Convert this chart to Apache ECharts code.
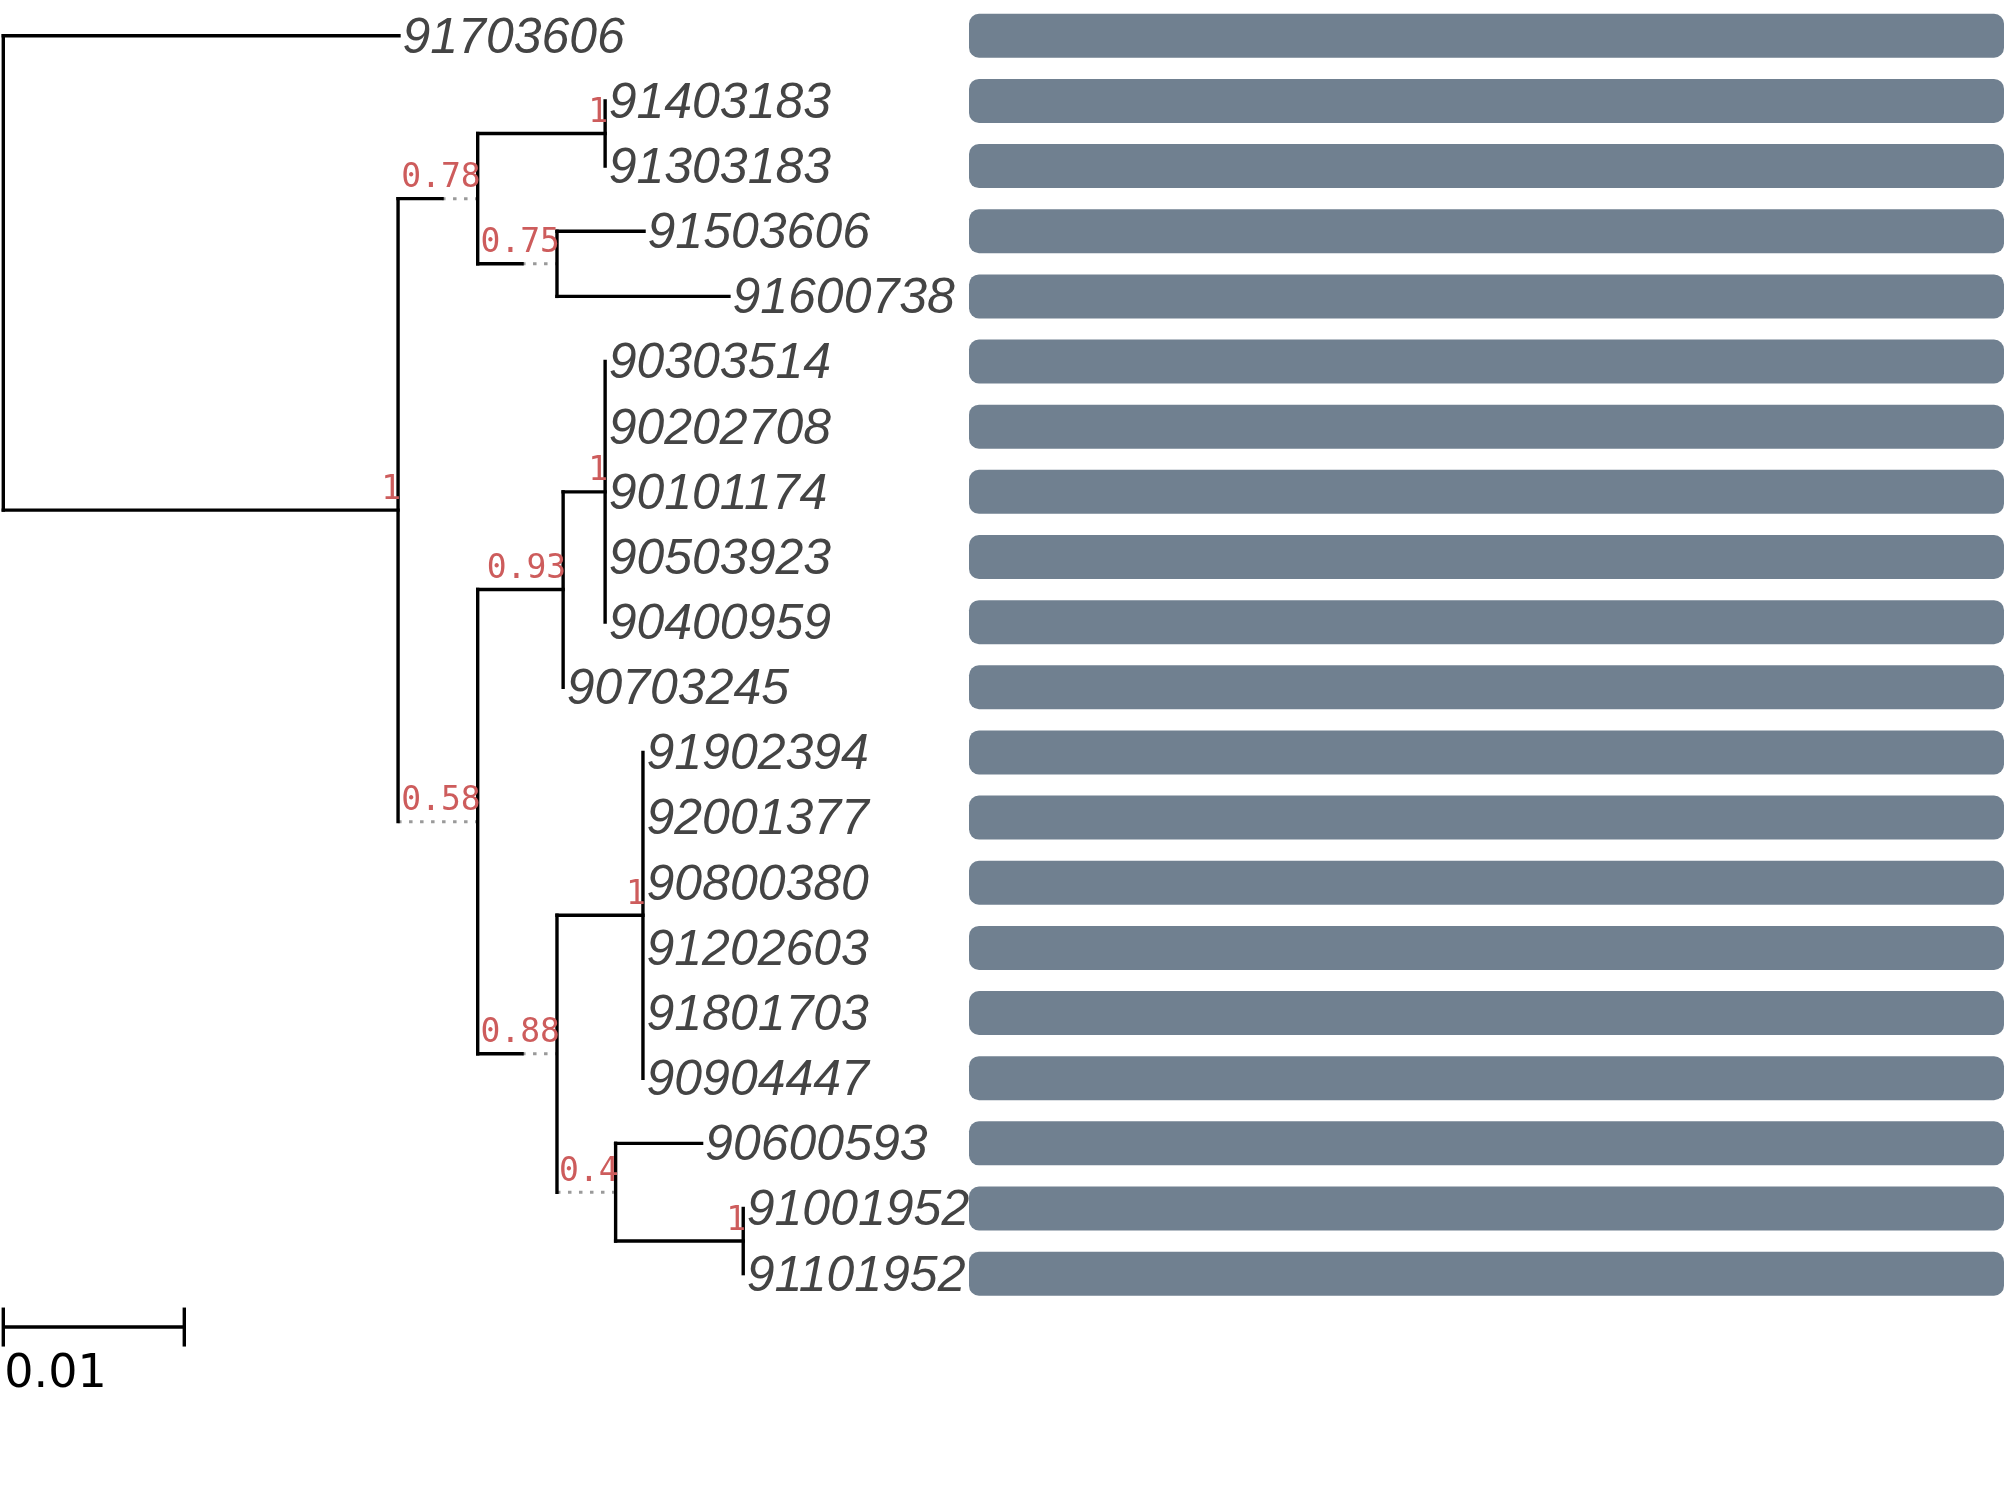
<!DOCTYPE html>
<html>
<head>
<meta charset="utf-8">
<title>tree</title>
<script src="https://cdn.jsdelivr.net/npm/echarts@6/dist/echarts.min.js"></script>
<style>
  html, body { margin: 0; padding: 0; background: #fff; }
  #main { width: 2007px; height: 1490px; }
</style>
</head>
<body>
<div id="main"></div>
<script>
// leaves, top to bottom
var leafNames = ['91703606', '91403183', '91303183', '91503606', '91600738',
  '90303514', '90202708', '90101174', '90503923', '90400959', '90703245',
  '91902394', '92001377', '90800380', '91202603', '91801703', '90904447',
  '90600593', '91001952', '91101952'];
var leafParent = ['root', 'nA1', 'nA1', 'nA2', 'nA2',
  'nB1a', 'nB1a', 'nB1a', 'nB1a', 'nB1a', 'nB1',
  'nB2a', 'nB2a', 'nB2a', 'nB2a', 'nB2a', 'nB2a',
  'nB2b', 'nB2c', 'nB2c'];
var leafBranch = [0.02186, 0, 0, 0.00481, 0.00950,
  0, 0, 0, 0, 0, 0,
  0, 0, 0, 0, 0, 0,
  0.00475, 0, 0];

// internal nodes
var nodeIds     = ['root', 'n1', 'nA', 'nA1', 'nA2', 'nB', 'nB1', 'nB1a', 'nB2', 'nB2a', 'nB2b', 'nB2c'];
var nodeParent  = [null, 'root', 'n1', 'nA', 'nA', 'n1', 'nB', 'nB1', 'nB', 'nB2', 'nB2', 'nB2b'];
var nodeBranch  = [0, 0.02181, 0.00243, 0.00704, 0.00245, 0, 0.00472, 0.00232, 0.00245, 0.00475, 0, 0.00705];
// dotted extension drawn after the branch (room for the support text)
var nodeExtra   = [0, 0, 0.00197, 0, 0.00193, 0.00440, 0, 0, 0.00193, 0, 0.00324, 0];
var nodeSupport = [null, '1', '0.78', '1', '0.75', '0.58', '0.93', '1', '0.88', '1', '0.4', '1'];

// bars on the right
var barLengths = [1, 1, 1, 1, 1, 1, 1, 1, 1, 1, 1, 1, 1, 1, 1, 1, 1, 1, 1, 1];

// scale bar
var scaleLength = 0.01;
var scaleLabel = '0.01';

var ROW_SCALE = 19.82;
var LINE_W = 3.4;

// ---- tree layout ----
var nodeX = {}, nodeY = {};
var idx = {};
nodeIds.forEach(function (id, i) { idx[id] = i; });

function getX(id) {
  if (nodeX[id] !== undefined) return nodeX[id];
  var i = idx[id];
  var p = nodeParent[i];
  var x = p === null ? 0 : getX(p) + nodeBranch[i] + nodeExtra[i];
  nodeX[id] = x;
  return x;
}
function childYs(id) {
  var ys = [];
  leafParent.forEach(function (p, i) { if (p === id) ys.push(i); });
  nodeParent.forEach(function (p, i) { if (p === id) ys.push(getY(nodeIds[i])); });
  return ys;
}
function getY(id) {
  if (nodeY[id] !== undefined) return nodeY[id];
  var ys = childYs(id);
  var y = (Math.min.apply(null, ys) + Math.max.apply(null, ys)) / 2;
  nodeY[id] = y;
  return y;
}
nodeIds.forEach(function (id) { getX(id); getY(id); });

var solidSeg = [], dotSeg = [], leafText = [], supportText = [];

// internal node branches + verticals
nodeIds.forEach(function (id, i) {
  var ys = childYs(id);
  solidSeg.push([nodeX[id], Math.min.apply(null, ys), nodeX[id], Math.max.apply(null, ys)]);
  var p = nodeParent[i];
  if (p === null) return;
  var px = nodeX[p];
  var sx = px + nodeBranch[i];
  if (nodeBranch[i] > 0) solidSeg.push([px, nodeY[id], sx, nodeY[id]]);
  if (nodeExtra[i] > 0) dotSeg.push([sx, nodeY[id], nodeX[id], nodeY[id]]);
  if (nodeSupport[i] !== null) supportText.push([nodeX[id], nodeY[id], nodeSupport[i]]);
});
// leaf branches
leafNames.forEach(function (name, i) {
  var px = nodeX[leafParent[i]];
  var lx = px + leafBranch[i];
  if (leafBranch[i] > 0) solidSeg.push([px, i, lx, i]);
  leafText.push([lx, i, name]);
});

function segItem(color, width, dash, cap) {
  return function (params, api) {
    var a = api.coord([api.value(0), api.value(1)]);
    var b = api.coord([api.value(2), api.value(3)]);
    return {
      type: 'line',
      shape: { x1: a[0], y1: a[1], x2: b[0], y2: b[1] },
      style: { stroke: color, lineWidth: width, lineDash: dash, lineCap: cap }
    };
  };
}

var chart = echarts.init(document.getElementById('main'));

var option = {
  animation: false,
  grid: [
    { left: 3.3, top: 3.2, width: 905, height: 1433.3 },
    { left: 969, top: 3.2, width: 1035, height: 1303 }
  ],
  xAxis: [
    { gridIndex: 0, type: 'value', min: 0, max: 0.05, show: false },
    { gridIndex: 1, type: 'value', min: 0, max: 1, show: false }
  ],
  yAxis: [
    { gridIndex: 0, type: 'value', min: -0.5, max: 21.5, inverse: true, show: false },
    { gridIndex: 1, type: 'category', data: leafNames, inverse: true, show: false }
  ],
  series: [
    {
      type: 'bar',
      xAxisIndex: 1,
      yAxisIndex: 1,
      data: barLengths,
      barWidth: 44,
      silent: true,
      itemStyle: { color: '#708090', borderRadius: 10 }
    },
    {
      type: 'custom',
      xAxisIndex: 0, yAxisIndex: 0,
      data: dotSeg,
      silent: true,
      renderItem: segItem('#9a9a9a', 3, [3.5, 7.5], 'butt')
    },
    {
      type: 'custom',
      xAxisIndex: 0, yAxisIndex: 0,
      data: solidSeg,
      silent: true,
      renderItem: segItem('#000000', LINE_W, null, 'square')
    },
    {
      type: 'custom',
      xAxisIndex: 0, yAxisIndex: 0,
      data: leafText,
      silent: true,
      renderItem: function (params, api) {
        var p = api.coord([api.value(0), api.value(1)]);
        return {
          type: 'text',
          style: {
            x: p[0] + 3.5, y: p[1] + 3,
            text: leafText[params.dataIndex][2],
            fill: '#444444',
            font: 'italic 50px "Liberation Sans"',
            align: 'left', verticalAlign: 'middle'
          }
        };
      }
    },
    {
      type: 'custom',
      xAxisIndex: 0, yAxisIndex: 0,
      data: supportText,
      silent: true,
      renderItem: function (params, api) {
        var p = api.coord([api.value(0), api.value(1)]);
        return {
          type: 'text',
          style: {
            x: p[0] + 3, y: p[1] - 20,
            text: supportText[params.dataIndex][2],
            fill: '#cd5c5c',
            font: '33px "DejaVu Sans Mono"',
            align: 'right', verticalAlign: 'middle'
          }
        };
      }
    },
    {
      type: 'custom',
      xAxisIndex: 0, yAxisIndex: 0,
      data: [[0, ROW_SCALE, scaleLength]],
      silent: true,
      renderItem: function (params, api) {
        var a = api.coord([api.value(0), api.value(1)]);
        var b = api.coord([api.value(2), api.value(1)]);
        var st = { stroke: '#000', lineWidth: LINE_W };
        return {
          type: 'group',
          children: [
            { type: 'line', shape: { x1: a[0], y1: a[1], x2: b[0], y2: b[1] }, style: st },
            { type: 'line', shape: { x1: a[0], y1: a[1] - 19.5, x2: a[0], y2: a[1] + 19.5 }, style: st },
            { type: 'line', shape: { x1: b[0], y1: b[1] - 19.5, x2: b[0], y2: b[1] + 19.5 }, style: st },
            {
              type: 'text',
              style: {
                x: a[0] + 1, y: a[1] + 48,
                text: scaleLabel, fill: '#000',
                font: '46px "DejaVu Sans"',
                align: 'left', verticalAlign: 'middle'
              }
            }
          ]
        };
      }
    }
  ]
};

chart.setOption(option);

window.addEventListener('resize', function () {
  chart.resize();
});
</script>
</body>
</html>
